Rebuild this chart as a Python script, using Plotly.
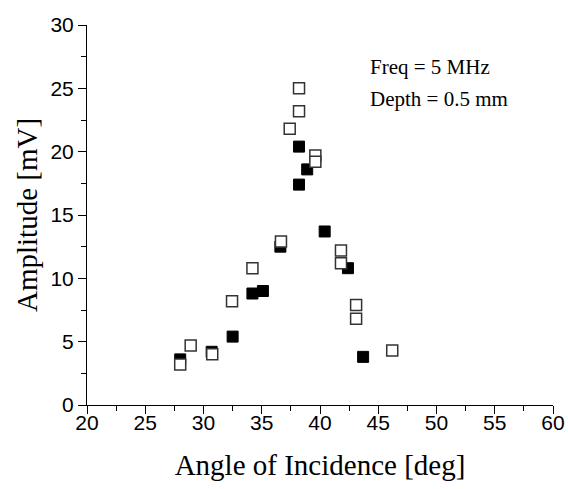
import plotly.graph_objects as go

# Filled squares
filled_x = [28.0, 30.7, 32.5, 34.2, 35.1, 36.6, 38.2, 38.2, 38.9, 40.4, 42.4, 43.7]
filled_y = [3.6, 4.2, 5.4, 8.8, 9.0, 12.5, 20.4, 17.4, 18.6, 13.7, 10.8, 3.8]

# Open squares
open_x = [28.0, 28.9, 30.75, 32.45, 34.2, 36.65, 37.4, 38.2, 38.2, 39.6, 39.6, 41.8, 41.8, 43.1, 43.1, 46.2]
open_y = [3.2, 4.7, 4.0, 8.2, 10.8, 12.9, 21.8, 25.0, 23.2, 19.7, 19.2, 12.2, 11.2, 7.9, 6.8, 4.3]

x_ticks = [20, 25, 30, 35, 40, 45, 50, 55, 60]
y_ticks = [0, 5, 10, 15, 20, 25, 30]

fig = go.Figure()
fig.add_trace(go.Scatter(
    x=filled_x, y=filled_y, mode="markers",
    marker=dict(symbol="square", size=11, color="black",
                line=dict(color="black", width=1)),
    showlegend=False))
fig.add_trace(go.Scatter(
    x=open_x, y=open_y, mode="markers",
    marker=dict(symbol="square", size=11, color="white",
                line=dict(color="#333333", width=1.5)),
    showlegend=False))

axis_common = dict(
    showline=True, linecolor="black", linewidth=1,
    ticks="outside", ticklen=8, tickwidth=1, tickcolor="black",
    showgrid=False, zeroline=False, automargin=False,
    tickfont=dict(family="Liberation Sans, Arial", size=21, color="black"),
    minor=dict(ticks="outside", ticklen=5, tickwidth=1, tickcolor="black", dtick=2.5, showgrid=False),
)

serif = "Liberation Serif, Times New Roman"

fig.update_xaxes(range=[20, 60], tickvals=x_ticks, ticktext=[str(v) for v in x_ticks],
                 ticklabelstandoff=-9,
                 title=dict(text="Angle of Incidence [deg]",
                            font=dict(family=serif, size=29, color="black"),
                            standoff=21),
                 **axis_common)
fig.update_yaxes(range=[0, 30], tickvals=y_ticks, ticktext=[str(v) for v in y_ticks],
                 title=dict(text="Amplitude [mV]",
                            font=dict(family=serif, size=29, color="black"),
                            standoff=4),
                 **axis_common)

fig.add_annotation(x=0.602, y=0.889, xref="paper", yref="paper", xanchor="left", yanchor="middle",
                   text="Freq = 5 MHz", showarrow=False,
                   font=dict(family=serif, size=21, color="black"))
fig.add_annotation(x=0.602, y=0.806, xref="paper", yref="paper", xanchor="left", yanchor="middle",
                   text="Depth = 0.5 mm", showarrow=False,
                   font=dict(family=serif, size=21, color="black"))

fig.update_layout(
    width=568, height=489,
    margin=dict(l=87, r=15, t=25, b=84),
    plot_bgcolor="white", paper_bgcolor="white",
)

fig.write_html("out.html")
